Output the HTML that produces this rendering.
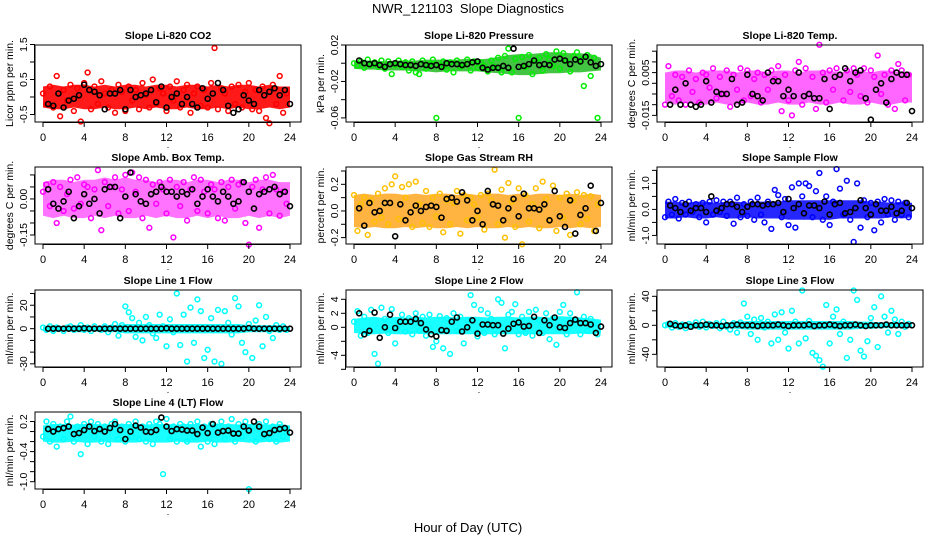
<!DOCTYPE html>
<html><head><meta charset="utf-8"><style>
html,body{margin:0;padding:0;background:#fff}
svg{display:block;font-family:"Liberation Sans",Arial,sans-serif}
</style></head><body>
<svg id="chart" width="936" height="540" viewBox="0 0 936 540" xmlns="http://www.w3.org/2000/svg">
<rect width="936" height="540" fill="#fff"/>
<text x="468" y="13" text-anchor="middle" font-size="13">NWR_121103&#160;&#160;Slope Diagnostics</text>
<text x="468" y="532" text-anchor="middle" font-size="13">Hour of Day (UTC)</text>
</svg>
<script>
const hourTicks = [0,4,8,12,16,20,24];

const co2Lo = [-0.3,-0.35,-0.35,-0.3,-0.35,-0.35,-0.3,-0.35,-0.35,-0.3,-0.35,-0.3,-0.35,-0.35,-0.3,-0.35,-0.35,-0.3,-0.35,-0.3,-0.35,-0.35,-0.3,-0.35,-0.3];
const co2Hi = [0.3,0.35,0.3,0.35,0.35,0.3,0.35,0.3,0.35,0.35,0.3,0.35,0.35,0.3,0.35,0.35,0.3,0.35,0.3,0.35,0.35,0.3,0.35,0.3,0.3];
const co2Pts = [0.1,-0.2,0.3,-0.3,0.6,-0.55,0.2,-0.1,0.35,-0.4,0.25,-0.7,0.4,0.7,-0.35,0.3,-0.2,0.45,0.1,-0.3,0.2,-0.45,0.35,0.15,-0.4,0.3,-0.1,0.2,-0.35,0.4,0.05,-0.3,0.5,-0.2,0.25,0.1,-0.4,0.3,-0.1,0.45,-0.3,0.2,0.35,-0.45,0.1,0.3,-0.25,0.2,-0.3,0.4,1.4,-0.35,0.25,0.1,-0.4,0.3,-0.2,0.35,-0.3,0.15,0.4,-0.35,0.2,-0.4,0.3,-0.6,-0.75,0.35,-0.2,0.6,-0.45,0.1];
const co2Blk = [-0.2,-0.25,0.1,-0.3,-0.1,-0.05,0.05,0.35,0.2,0.15,0.05,-0.35,0.1,0.1,0.2,-0.35,0.2,0,0.05,0.1,0.2,-0.15,0.3,-0.3,0.0,0.1,-0.2,0,-0.2,-0.3,0.25,-0.05,0.1,0.4,0.2,-0.25,-0.45,-0.35,0.05,-0.1,-0.2,0.2,0.05,0.15,0.25,0.05,0.2,-0.2];
const co2Ticks = [-0.5,0,0.5,1,1.5];
const co2Labels = ["-0.5","","0.5","","1.5"];

const presLo = [-0.006,-0.007,-0.007,-0.008,-0.008,-0.008,-0.009,-0.009,-0.01,-0.009,-0.009,-0.009,-0.009,-0.01,-0.011,-0.012,-0.013,-0.013,-0.012,-0.011,-0.011,-0.01,-0.01,-0.009,-0.008];
const presHi = [0.002,0.003,0.003,0.002,0.003,0.003,0.003,0.004,0.004,0.004,0.004,0.005,0.004,0.005,0.007,0.009,0.01,0.01,0.011,0.012,0.012,0.011,0.011,0.01,0.006];
const presPts = [0,-0.003,0.002,-0.005,0.004,-0.002,0.001,-0.004,0.003,-0.006,0.002,-0.012,-0.002,0.003,-0.004,0.001,-0.008,0.002,-0.01,-0.012,0.003,-0.006,-0.001,0.004,-0.06,-0.003,0.002,-0.007,0.001,-0.01,0.003,-0.004,-0.002,0.004,-0.008,0.002,-0.005,0.001,-0.003,-0.009,0.003,-0.004,0.006,-0.01,0.008,0.016,-0.01,0.005,-0.06,0.007,-0.004,0.009,-0.012,0.003,0.006,-0.008,0.01,0.004,-0.003,0.013,-0.006,0.011,0.002,-0.009,0.008,0.012,0.004,-0.025,0.009,-0.014,0.006,-0.06];
const presBlk = [0.003,0,-0.001,0,-0.002,-0.004,-0.001,0,-0.001,-0.002,-0.002,-0.003,-0.001,-0.002,-0.003,-0.002,-0.004,0,-0.001,-0.001,-0.002,-0.001,0.001,0.002,-0.005,-0.007,-0.005,-0.005,-0.003,-0.005,0.016,-0.004,-0.003,-0.001,0.003,-0.002,-0.001,-0.002,0.004,0.005,0.003,-0.001,0.004,0.002,0.007,0.001,-0.003,-0.001];
const presTicks = [-0.06,-0.04,-0.02,0,0.02];
const presLabels = ["-0.06","","-0.02","","0.02"];

const ltLo = [-0.009,-0.01,-0.009,-0.01,-0.01,-0.009,-0.01,-0.01,-0.009,-0.01,-0.01,-0.009,-0.01,-0.01,-0.009,-0.01,-0.01,-0.009,-0.01,-0.01,-0.009,-0.01,-0.01,-0.009,-0.009];
const ltHi = [0.005,0.006,0.006,0.005,0.006,0.006,0.006,0.005,0.006,0.006,0.005,0.006,0.006,0.005,0.006,0.006,0.006,0.005,0.006,0.006,0.005,0.006,0.006,0.005,0.005];
const ltPts = [-0.01,0.008,-0.006,0.004,-0.008,0.003,-0.01,0.006,-0.004,0.002,-0.009,0.005,0.004,-0.002,0.007,-0.007,0.003,-0.005,0.006,-0.011,0.004,-0.003,0.007,-0.008,0.006,-0.006,0.002,0.005,-0.009,0.004,-0.003,0.006,0.002,0.008,-0.013,0.004,-0.008,-0.015,0.006,0.01,-0.01,0.007,-0.005,0.003,-0.012,0.018,0.005,-0.009,0.006,-0.003,0.007,0.004,-0.008,0.006,-0.004,0.007,0.004,-0.006,0.007,-0.009,0.006,0.003,0.013,-0.005,0.004,-0.01,0.006,-0.012,0.009,0.006,-0.008,0.004];
const ltBlk = [-0.01,-0.003,-0.01,0,-0.01,-0.011,-0.01,0.001,-0.009,-0.004,-0.005,-0.005,0.002,-0.01,-0.009,0.004,-0.005,-0.006,-0.008,0.005,0.001,0.001,-0.006,-0.003,-0.006,0.005,-0.006,-0.005,-0.007,-0.007,0.002,-0.012,0.003,0.004,0.007,0.001,0.005,0.006,-0.007,-0.017,-0.003,0,-0.009,0.002,0.005,0.004,0.004,-0.013];
const ltTicks = [-0.015,-0.01,-0.005,0,0.005,0.01,0.015];
const ltLabels = ["-0.015","","","","0.005","",""];

const boxLo = [-0.07,-0.08,-0.07,-0.08,-0.08,-0.07,-0.08,-0.07,-0.08,-0.08,-0.07,-0.08,-0.07,-0.08,-0.08,-0.07,-0.08,-0.07,-0.08,-0.08,-0.07,-0.08,-0.07,-0.08,-0.07];
const boxHi = [0.07,0.08,0.08,0.07,0.08,0.08,0.09,0.08,0.09,0.08,0.08,0.07,0.08,0.08,0.07,0.08,0.08,0.07,0.08,0.08,0.07,0.08,0.08,0.07,0.07];
const boxPts = [0.03,0.06,-0.03,0.07,-0.1,0.05,-0.05,0.02,0.08,-0.04,0.09,-0.02,0.06,0.05,-0.08,0.04,0.12,-0.13,0.07,-0.03,0.05,0.09,-0.06,0.04,0.1,-0.05,0.11,0.03,0.09,-0.08,0.08,-0.12,0.06,-0.02,0.07,0.04,-0.06,0.08,-0.16,0.05,-0.03,0.07,-0.09,0.04,0.09,-0.05,0.08,0.03,-0.06,0.06,0.04,-0.08,0.07,-0.09,0.05,0.08,-0.04,0.06,0.07,-0.1,-0.19,0.05,0.08,-0.12,0.04,0.09,-0.06,0.1,0.04,-0.07,0.03,-0.02];
const boxBlk = [0.04,-0.02,-0.04,-0.01,0.03,-0.08,-0.03,0.02,-0.02,0,-0.06,0.04,0.05,0.05,-0.08,0.01,0.11,0.02,-0.01,-0.02,0.02,0.03,0.05,0.03,0.03,0.01,0.03,0.02,0.04,-0.02,0.01,0.04,0.01,-0.01,0.03,0.01,-0.02,-0.01,0.07,0.03,-0.04,0.02,0.03,0.04,0.05,0.02,0.03,-0.03];
const boxTicks = [-0.15,-0.1,-0.05,0,0.05,0.1];
const boxLabels = ["-0.15","","","0.00","",""];

const rhLo = [-0.12,-0.13,-0.12,-0.13,-0.13,-0.12,-0.13,-0.12,-0.13,-0.13,-0.12,-0.13,-0.12,-0.13,-0.13,-0.12,-0.13,-0.12,-0.13,-0.13,-0.12,-0.13,-0.12,-0.13,-0.12];
const rhHi = [0.12,0.13,0.12,0.13,0.13,0.12,0.13,0.12,0.13,0.13,0.12,0.13,0.12,0.13,0.13,0.12,0.13,0.12,0.13,0.13,0.12,0.13,0.12,0.13,0.12];
const rhPts = [0.12,-0.15,0.05,0.1,-0.18,0.08,-0.08,0.13,-0.05,0.17,-0.1,0.2,0.26,-0.06,0.18,0.1,0.2,-0.12,0.22,0.05,-0.09,0.15,-0.12,0.1,-0.04,0.13,-0.16,0.08,-0.1,0.06,0.15,-0.17,0.12,-0.07,0.1,0.05,-0.05,0.12,-0.14,0.13,0.08,0.31,-0.1,0.16,-0.2,0.21,0.07,-0.12,0.17,-0.25,0.12,-0.08,0.05,0.17,-0.13,0.22,0.09,-0.07,0.19,-0.15,0.1,-0.05,0.13,-0.18,0.08,0.14,-0.1,0.12,-0.06,0.11,-0.15,0.05];
const rhBlk = [0.02,-0.11,0.06,-0.01,0,0.06,0.06,-0.19,0.05,-0.07,-0.01,0.04,0,0.03,0.04,0.03,-0.05,0.09,0.1,0.07,0.14,0.08,-0.07,0,-0.1,0.15,0.05,0.04,-0.07,0.02,0.09,-0.04,0.13,0.02,0.02,0.01,0.05,-0.07,0.15,-0.04,-0.12,0.08,-0.17,-0.03,0.02,0.19,-0.15,0.06];
const rhTicks = [-0.2,-0.1,0,0.1,0.2,0.3];
const rhLabels = ["-0.2","","0.0","","0.2",""];

const sfLo = [-0.35,-0.35,-0.3,-0.35,-0.35,-0.3,-0.35,-0.35,-0.3,-0.35,-0.35,-0.35,-0.4,-0.4,-0.4,-0.4,-0.4,-0.35,-0.35,-0.35,-0.35,-0.35,-0.3,-0.35,-0.3];
const sfHi = [0.3,0.3,0.25,0.3,0.3,0.25,0.3,0.3,0.25,0.3,0.3,0.3,0.35,0.35,0.35,0.35,0.35,0.35,0.35,0.35,0.3,0.3,0.25,0.3,0.25];
const sfPts = [-0.3,0.3,-0.2,0.4,-0.35,0.25,-0.2,0.3,-0.1,0.2,-0.3,0.25,-0.5,0.3,-0.2,0.35,-0.1,0.3,-0.25,0.3,-0.55,0.45,-0.3,0.2,-0.25,0.3,-0.4,0.45,-0.2,-0.5,0.3,-0.75,0.75,0.55,-0.3,0.4,-0.6,0.85,-0.7,1.0,0.5,1.0,0.9,-0.3,0.7,1.4,-0.4,0.5,-0.6,0.3,1.55,0.8,-0.2,1.1,-0.4,-1.25,1.0,-0.7,0.35,-0.3,0.25,-0.8,0.3,-0.5,0.4,-0.2,0.35,-0.4,0.3,-0.2,0.25,-0.3];
const sfBlk = [0.15,0.05,-0.1,0.2,-0.05,0.05,0.05,-0.1,0.5,-0.05,0.05,0.2,0.2,0.1,-0.1,0.1,0.2,0.2,0.15,0.2,0.2,0.25,-0.1,0.4,0.05,0.2,-0.15,0.15,0.15,0.05,0.3,-0.2,0.2,0.25,-0.15,-0.1,0.05,0.35,0.05,-0.2,0.2,-0.05,-0.05,0.1,-0.15,-0.05,0.25,0.05];
const sfTicks = [-1,-0.5,0,0.5,1,1.5];
const sfLabels = ["-1.0","","0.0","","1.0",""];

const l1Lo = [-2,-3,-2,-3,-3,-2,-3,-3,-4,-4,-4,-4,-4,-4,-4,-4,-4,-4,-4,-4,-3,-3,-3,-3,-2];
const l1Hi = [2,3,2,3,3,2,3,3,4,4,4,4,4,4,4,4,4,4,4,4,3,3,3,3,2];
const l1Pts = [1,-1,2,-2,1,0,-2,1,2,-1,0,3,-1,1,-2,2,0,-1,2,-3,1,4,-6,3,19,14,9,-7,5,-10,10,3,-4,-8,12,2,-15,8,-3,30,-14,12,-28,18,-12,25,15,-25,-18,9,-28,16,-30,15,5,-5,26,19,-12,-20,4,-25,7,20,-15,10,-2,-8,3,-1,2,-1];
const l1Blk = [0,0,0,0,0,0,0,0.3,0,0,0,0,0,0,0,0,0,0,0,0,0,0,0,0.3,0,0,0,0,0,0,0,0,0,0,0,0,0,0,0,0.5,0,0,0,0,0,0,0,0];
const l1Ticks = [-30,-20,-10,0,10,20,30];
const l1Labels = ["-30","","","0","","20",""];

const l2Lo = [-0.8,-1,-1,-0.9,-1,-1,-0.9,-1,-1,-1,-1,-1,-1,-1,-1,-1,-1,-1,-1,-1,-1,-1,-0.9,-1,-0.8];
const l2Hi = [1.2,1.4,1.5,1.3,1.5,1.4,1.5,1.4,1.5,1.5,1.4,1.5,1.5,1.4,1.5,1.5,1.4,1.5,1.5,1.4,1.6,1.5,1.4,1.3,1.1];
const l2Pts = [0.8,2.3,-1.2,1.5,-0.8,2.5,-3.8,-5.2,2.8,1.2,-0.8,2.6,-2.3,0.5,1.8,-0.6,1.3,-1.0,2.0,-0.5,1.5,-1.2,1.8,-2.8,-2.0,1.6,-3.0,1.3,-3.8,2.0,-0.5,1.5,-2.3,1.0,4.6,3.2,-1.3,2.5,-0.8,2.0,1.2,-1.0,4.0,3.5,-3.0,1.8,2.2,3.3,-1.0,1.5,-0.8,2.2,-1.2,2.5,1.0,-0.8,2.0,-1.7,1.3,-2.5,2.2,3.2,-1.0,2.0,1.0,5.0,-1.0,1.5,-0.5,1.2,0.6,-1.0];
const l2Blk = [2.0,-1.0,-0.5,2.1,-1.5,0,1.8,-0.1,0.8,0.8,0.8,1.2,0.6,-0.3,-1.0,-1.3,-0.4,-0.5,0.8,1.4,-0.6,0,1.0,-0.9,0.4,0.4,0.3,0.3,-0.9,-0.2,0.5,0.7,0.1,0.2,1.5,-0.8,1.0,0.3,1.4,0,-0.1,0.6,1.1,0.6,0.6,0.4,-0.8,0.1];
const l2Ticks = [-6,-4,-2,0,2,4];
const l2Labels = ["","-4","","0","2","4"];

const l3Lo = [-3,-4,-3,-4,-4,-3,-4,-5,-6,-6,-6,-6,-6,-6,-6,-6,-6,-6,-6,-5,-5,-4,-4,-4,-3];
const l3Hi = [3,4,3,4,4,3,4,5,6,6,6,6,6,6,6,6,6,6,6,5,5,4,4,4,3];
const l3Pts = [0,2,-3,3,-2,1,-4,2,-1,4,-2,5,-3,2,-1,3,-4,5,-2,-6,3,-10,4,30,12,-12,8,-20,10,-3,5,-25,15,-20,18,-10,-32,20,5,-25,48,-18,6,-38,-42,-48,-57,28,-25,12,22,-12,5,-45,-20,48,35,-35,-43,-22,10,25,-30,40,12,-10,20,8,-12,5,-2,2];
const l3Blk = [2,0,-1,0,-2,0,0,1,0,0,-1,0,0,1,0,0,0,-1,0,0,0,1,0,-1,0,0,0,1,-1,0,0,1,0,-1,0,0,1,0,-1,0,0,0,1,0,0,0,0,0];
const l3Ticks = [-40,-20,0,20,40];
const l3Labels = ["-40","","0","","40"];

const l4Lo = [-0.2,-0.22,-0.22,-0.2,-0.22,-0.22,-0.2,-0.22,-0.22,-0.22,-0.2,-0.22,-0.22,-0.2,-0.22,-0.22,-0.2,-0.22,-0.22,-0.2,-0.22,-0.22,-0.2,-0.22,-0.2];
const l4Hi = [0.12,0.15,0.15,0.14,0.15,0.15,0.14,0.15,0.15,0.15,0.14,0.15,0.15,0.14,0.15,0.15,0.14,0.15,0.15,0.14,0.15,0.15,0.14,0.15,0.12];
const l4Pts = [-0.1,0.2,-0.2,0.15,-0.3,0.1,-0.15,0.2,0.3,-0.2,0.1,-0.45,0.15,-0.25,0.2,-0.1,0.15,-0.2,0.1,-0.25,0.15,0.2,-0.15,0.1,-0.2,0.15,-0.1,0.2,-0.15,0.1,-0.2,0.15,-0.25,0.2,0.15,-0.85,0.25,-0.15,0.1,-0.2,0.15,0.1,-0.2,0.15,-0.1,0.2,-0.3,0.1,-0.2,0.15,-0.25,0.1,0.2,-0.15,0.1,0.25,-0.2,0.15,-0.1,0.2,-1.15,0.1,-0.2,0.15,-0.1,0.2,-0.15,0.1,-0.2,0.15,-0.1,0.05];
const l4Blk = [0.05,0,0.05,0.07,0.1,-0.05,-0.03,0.03,0.1,0.01,0.05,0,0.07,0.15,0.03,-0.15,0,0.12,0.08,0,-0.01,0.03,0.28,0.1,0.01,0.05,0.04,0.02,0.02,-0.05,0.08,-0.03,0.15,-0.02,0.01,0.02,-0.04,-0.04,0.1,0.02,0.2,0.1,-0.05,-0.03,0.03,0.05,0.07,-0.02];
const l4Ticks = [-1,-0.8,-0.6,-0.4,-0.2,0,0.2];
const l4Labels = ["-1.0","","","-0.4","","","0.2"];

const NS = "http://www.w3.org/2000/svg";
const svg = document.getElementById("chart");
function mk(tag, attrs, parent){ const e=document.createElementNS(NS,tag); for(const k in attrs) e.setAttribute(k,attrs[k]); (parent||svg).appendChild(e); return e; }

const panels = [
 {id:"co2",title:"Slope Li-820 CO2",ylab:"Licor ppm per min.",col:0,row:0,ymin:-0.714,ymax:1.486,lo:co2Lo,hi:co2Hi,pts:co2Pts,blk:co2Blk,ticks:co2Ticks,labels:co2Labels,color:"#ff0000",band:"#ff0000",op:0.9},
 {id:"pressure",title:"Slope Li-820 Pressure",ylab:"kPa per min.",col:1,row:0,ymin:-0.0645,ymax:0.02,lo:presLo,hi:presHi,pts:presPts,blk:presBlk,ticks:presTicks,labels:presLabels,color:"#00ee00",band:"#22bb22",op:0.85},
 {id:"licor-temp",title:"Slope Li-820 Temp.",ylab:"degrees C per min.",col:2,row:0,ymin:-0.0181,ymax:0.0179,lo:ltLo,hi:ltHi,pts:ltPts,blk:ltBlk,ticks:ltTicks,labels:ltLabels,color:"#ff00ff",band:"#ff00ff",op:0.6},
 {id:"box-temp",title:"Slope Amb. Box Temp.",ylab:"degrees C per min.",col:0,row:1,ymin:-0.1875,ymax:0.133,lo:boxLo,hi:boxHi,pts:boxPts,blk:boxBlk,ticks:boxTicks,labels:boxLabels,color:"#ff00ff",band:"#ff00ff",op:0.55},
 {id:"gas-rh",title:"Slope Gas Stream RH",ylab:"percent per min.",col:1,row:1,ymin:-0.248,ymax:0.33,lo:rhLo,hi:rhHi,pts:rhPts,blk:rhBlk,ticks:rhTicks,labels:rhLabels,color:"#ffc000",band:"#ff9a00",op:0.75},
 {id:"sample-flow",title:"Slope Sample Flow",ylab:"ml/min per min.",col:2,row:1,ymin:-1.33,ymax:1.63,lo:sfLo,hi:sfHi,pts:sfPts,blk:sfBlk,ticks:sfTicks,labels:sfLabels,color:"#0000ff",band:"#0000ff",op:0.85},
 {id:"line1-flow",title:"Slope Line 1 Flow",ylab:"ml/min per min.",col:0,row:2,ymin:-32.7,ymax:33,lo:l1Lo,hi:l1Hi,pts:l1Pts,blk:l1Blk,ticks:l1Ticks,labels:l1Labels,color:"#00ffff",band:"#00ffff",op:0.9},
 {id:"line2-flow",title:"Slope Line 2 Flow",ylab:"ml/min per min.",col:1,row:2,ymin:-5.67,ymax:5.33,lo:l2Lo,hi:l2Hi,pts:l2Pts,blk:l2Blk,ticks:l2Ticks,labels:l2Labels,color:"#00ffff",band:"#00ffff",op:0.9},
 {id:"line3-flow",title:"Slope Line 3 Flow",ylab:"ml/min per min.",col:2,row:2,ymin:-57.5,ymax:48.7,lo:l3Lo,hi:l3Hi,pts:l3Pts,blk:l3Blk,ticks:l3Ticks,labels:l3Labels,color:"#00ffff",band:"#00ffff",op:0.9},
 {id:"line4-flow",title:"Slope Line 4 (LT) Flow",ylab:"ml/min per min.",col:0,row:3,ymin:-1.146,ymax:0.39,lo:l4Lo,hi:l4Hi,pts:l4Pts,blk:l4Blk,ticks:l4Ticks,labels:l4Labels,color:"#00ffff",band:"#00ffff",op:0.9}
];

const colLeft = [35,346,657], rowTop = [45,167,290,412], W = 266, H = 77;

panels.forEach(p => {
  const L = colLeft[p.col], T = rowTop[p.row], B = T + H;
  const xs = h => L + 8 + h * 247 / 24;
  const ys = v => T + (p.ymax - v) / (p.ymax - p.ymin) * H;
  const g = mk("g", {});
  
  

  const t = mk("text", {x: L + W/2, y: T - 6, "text-anchor": "middle", "font-size": 10.5, "font-weight": "bold"}, g);
  t.textContent = p.title;
  
  

  let pts = [];
  p.hi.forEach((v, i) => pts.push(xs(i) + "," + ys(v)));
  for (let i = p.lo.length - 1; i >= 0; i--) pts.push(xs(i) + "," + ys(p.lo[i]));
  const band = mk("polygon", {points: pts.join(" "), fill: p.band, "fill-opacity": p.op, stroke: "none"}, g);
  
  

  p.pts.forEach((v, i) => {
    const c = mk("circle", {cx: xs(i / 3), cy: ys(v), r: 2.4, fill: "none", stroke: p.color, "stroke-width": 1.5}, g);
    
    
  });
  p.blk.forEach((v, i) => {
    const c = mk("circle", {cx: xs(0.5 + i * 0.5), cy: ys(v), r: 2.5, fill: "none", stroke: "#000", "stroke-width": 1.6}, g);
    
    
  });

  const box = mk("rect", {x: L, y: T, width: W, height: H, fill: "none", stroke: "#000", "stroke-width": 1}, g);
  
  

  const xa = mk("g", {}, g);
  
  
  mk("line", {x1: xs(0), x2: xs(24), y1: B + 0.5, y2: B + 0.5, stroke: "#000"}, xa);
  hourTicks.forEach(h => {
    mk("line", {x1: xs(h), x2: xs(h), y1: B, y2: B + 5, stroke: "#000"}, xa);
    const lt = mk("text", {x: xs(h), y: B + 19, "text-anchor": "middle", "font-size": 11}, xa);
    lt.textContent = h;
    
    
  });
  const dot = mk("text", {x: L + W/2, y: B + 26, "text-anchor": "middle", "font-size": 9}, xa);
  dot.textContent = ".";

  const ya = mk("g", {}, g);
  
  
  const yv = p.ticks.map(ys);
  mk("line", {x1: L - 0.5, x2: L - 0.5, y1: Math.min(...yv), y2: Math.max(...yv), stroke: "#000"}, ya);
  p.ticks.forEach((v, i) => {
    const y = ys(v);
    mk("line", {x1: L - 5, x2: L, y1: y, y2: y, stroke: "#000"}, ya);
    if (p.labels[i]) {
      const lt = mk("text", {x: L - 8, y: y, "text-anchor": "middle", "font-size": 10.5, transform: `rotate(-90 ${L - 8} ${y})`}, ya);
      lt.textContent = p.labels[i];
      
      
    }
  });
  const yt = mk("text", {x: L - 22, y: T + H/2, "text-anchor": "middle", "font-size": 10.5, transform: `rotate(-90 ${L - 22} ${T + H/2})`}, ya);
  yt.textContent = p.ylab;
  
  
});
</script>
</body></html>
